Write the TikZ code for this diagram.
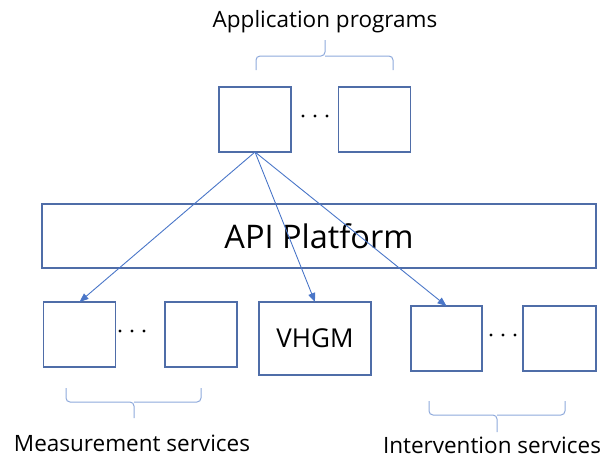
\documentclass[tikz,border=0pt]{standalone}
\usepackage{fontspec}
\setmainfont{Open Sans}
\usetikzlibrary{arrows.meta}
\definecolor{boxc}{HTML}{4F6DA8}
\definecolor{arrc}{HTML}{4A76C8}
\definecolor{brc}{HTML}{8EA9DB}
\tikzset{
  box/.style={draw=boxc, line width=1.2pt, minimum width=#1, inner sep=0pt, outer sep=0pt},
  sq/.style={box=72pt, minimum height=65pt},
  conn/.style={draw=arrc, line width=0.9pt, -{Triangle[length=9pt,width=7pt]}},
  brace/.style={draw=brc, line width=1pt, rounded corners=4pt},
  lbl/.style={font=\fontsize{22.5}{22.5}\selectfont, inner sep=0pt},
  dot/.style={fill=black, draw=none, circle, minimum size=3.2pt, inner sep=0pt}
}
\begin{document}
\begin{tikzpicture}[x=1pt,y=-1pt]
\useasboundingbox (0,0) rectangle (603,459);
% top
\node[sq] (a1) at (255,119.5) {};
\node[sq] (a2) at (374.5,119.5) {};
\node[dot] (ad1) at (303,116) {};
\node[dot] (ad2) at (315,116) {};
\node[dot] (ad3) at (327,116) {};
\node[lbl] (at) at (325,22) {Application programs};
\draw[brace] (256,70) -- (256,56) -- (325,56) -- (325,40);
\draw[brace] (393,70) -- (393,56) -- (325,56);
% platform
\node[box=554pt, minimum height=64pt, font=\fontsize{32.5}{32.5}\selectfont] (api) at (319,236) {API Platform};
% bottom
\node[sq] (b1) at (79.5,334.5) {};
\node[sq] (b2) at (201,334.5) {};
\node[dot] (bd1) at (120,331) {};
\node[dot] (bd2) at (132,331) {};
\node[dot] (bd3) at (144,331) {};
\draw[brace] (66,388) -- (66,402) -- (134,402) -- (134,418);
\draw[brace] (201,388) -- (201,402) -- (134,402);
\node[lbl] (bt) at (132,443) {Measurement services};
\node[box=112pt, minimum height=73pt, font=\fontsize{26}{26}\selectfont] (v) at (315,338.5) {VHGM};
\node[box=71pt, minimum height=65pt] (r1) at (446.5,338.5) {};
\node[box=73pt, minimum height=65pt] (r2) at (559.5,338.5) {};
\node[dot] (rd1) at (491,335) {};
\node[dot] (rd2) at (503,335) {};
\node[dot] (rd3) at (515,335) {};
\draw[brace] (429,401) -- (429,415) -- (497,415) -- (497,432);
\draw[brace] (565,401) -- (565,415) -- (497,415);
\node[lbl] (rt) at (492,445) {Intervention services};
% arrows
\draw[conn] (a1.south) -- (b1.north);
\draw[conn] (a1.south) -- (v.north);
\draw[conn] (a1.south) -- (r1.north);
\end{tikzpicture}
\end{document}
